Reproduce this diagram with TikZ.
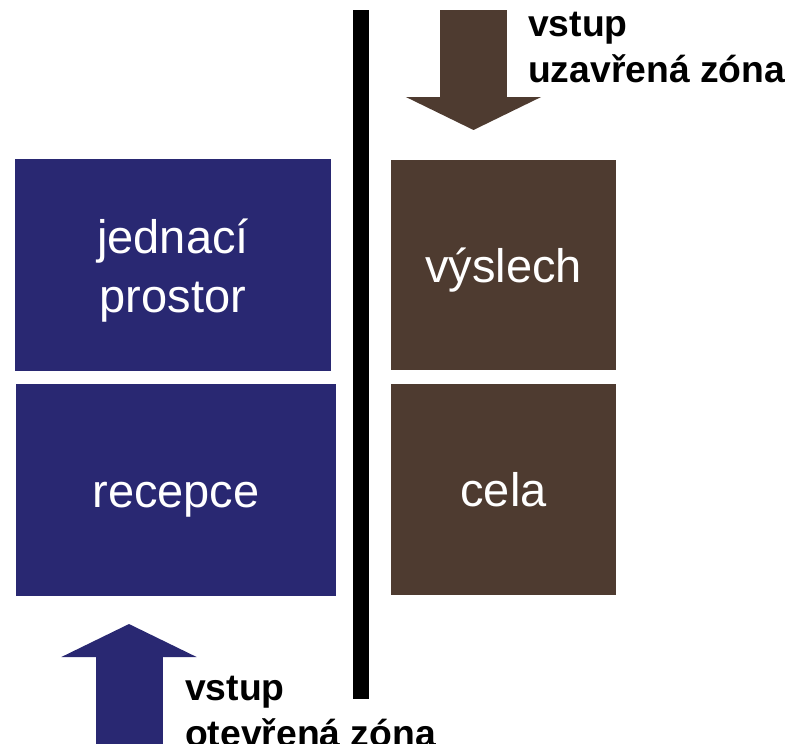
\documentclass[tikz,border=0pt]{standalone}
\usepackage{fontspec}
\setmainfont{Liberation Sans}
\usetikzlibrary{arrows.meta}
\definecolor{openblue}{RGB}{41,40,114}
\definecolor{closedbrown}{RGB}{78,59,48}
\tikzset{
  room/.style={fill=#1,text=white,inner sep=0pt,align=center,
    text height=34pt,text depth=0pt,font=\fontsize{47}{59}\selectfont},
  zone/.style={anchor=base west,inner sep=0pt,align=left,
    font=\fontsize{37.3}{46}\selectfont\bfseries},
  entry/.style={draw=#1,line width=67pt,-{Triangle[length=33pt,width=134pt]}}
}
\begin{document}
\begin{tikzpicture}[x=1pt,y=-1pt]
\useasboundingbox (0,0) rectangle (788,744);

% wall
\fill (353,10) rectangle (369,699);

\node[room=openblue,minimum width=316pt,minimum height=212pt,text height=94pt] (jednaci) at (173,265) {jednací\\prostor};
\node[room=openblue,minimum width=320pt,minimum height=212pt] (recepce) at (176,490) {recepce};
\node[room=closedbrown,minimum width=225pt,minimum height=210pt] (vyslech) at (503.5,265) {výslech};
\node[room=closedbrown,minimum width=225pt,minimum height=211pt] (cela) at (503.5,489.5) {cela};

\coordinate (closedIn) at (473.5,10);
\coordinate (closedTip) at (473.5,130);
\coordinate (openIn) at (129,760);
\coordinate (openTip) at (129,624);

\draw[entry=closedbrown] (closedIn) -- (closedTip);
\draw[entry=openblue] (openIn) -- (openTip);

% base of a two-line node is its last line
\node[zone] (closedLabel) at (528,82) {vstup\\uzavřená zóna};
\node[zone] (openLabel) at (185,746) {vstup\\otevřená zóna};
\end{tikzpicture}
\end{document}
